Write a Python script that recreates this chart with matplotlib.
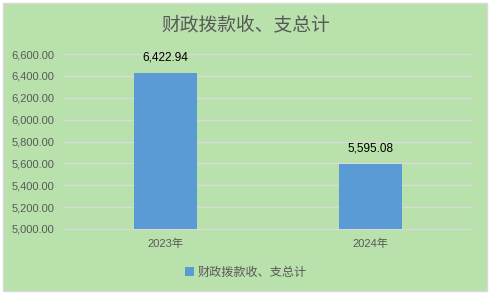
import matplotlib
matplotlib.use("Agg")
import matplotlib.pyplot as plt
from matplotlib.patches import Rectangle, Patch
from matplotlib.ticker import FuncFormatter

plt.rcParams['font.family'] = ['Noto Sans CJK SC', 'DejaVu Sans']
num_font = ['Liberation Sans', 'Noto Sans CJK SC']

categories = ["2023年", "2024年"]
values = [6422.94, 5595.08]
series_name = "财政拨款收、支总计"
title = "财政拨款收、支总计"

W, H = 492, 297
fig = plt.figure(figsize=(W/100, H/100), dpi=100)
fig.patch.set_facecolor("white")
bg = "#B9E1AB"
fig.patches.append(Rectangle((3/W, 1 - 291/H), 484/W, 288/H, transform=fig.transFigure,
                             facecolor=bg, edgecolor="#D9D9D9", linewidth=1, zorder=-10))

ax = fig.add_axes([63/W, 1 - 229/H, 410/W, 175/H])
ax.set_zorder(2)
ax.patch.set_alpha(0)
bar_color = "#5B9BD5"
x = list(range(len(categories)))
ax.bar(x, values, width=0.31, color=bar_color, zorder=3)
ax.set_xlim(-0.5, 1.5)
ax.set_ylim(5000, 6600)
ax.set_yticks([5000 + 200*i for i in range(9)])
ax.yaxis.set_major_formatter(FuncFormatter(lambda v, p: f"{v:,.2f}"))
ax.set_xticks(x)
ax.set_xticklabels(categories)
ax.grid(axis="y", color="#D9D9D9", linewidth=1, zorder=0)
ax.set_axisbelow(True)
for s in ["top", "right", "left"]:
    ax.spines[s].set_visible(False)
ax.spines["bottom"].set_color("#D9D9D9")
ax.tick_params(axis="both", length=0, colors="#595959")
ax.tick_params(axis="y", pad=6)
ax.tick_params(axis="x", pad=7)
for lbl in ax.get_yticklabels() + ax.get_xticklabels():
    lbl.set_fontfamily(num_font)
    lbl.set_fontsize(8)

for xi, v in zip(x, values):
    ax.annotate(f"{v:,.2f}", (xi, v), xytext=(0, 7), textcoords="offset points",
                ha="center", va="bottom", fontsize=8.5, color="black", family=num_font)

fig.text(0.5, 1 - 25/H, title, ha="center", va="center", fontsize=13.5, color="#595959")

fig.legend(handles=[Patch(facecolor=bar_color, label=series_name)],
           loc="center", bbox_to_anchor=(0.5, 1 - 272/H), frameon=False,
           fontsize=8.7, handlelength=0.7, handleheight=0.7, handletextpad=0.3,
           labelcolor="#595959")

fig.savefig("out.png", dpi=100, facecolor="white")
